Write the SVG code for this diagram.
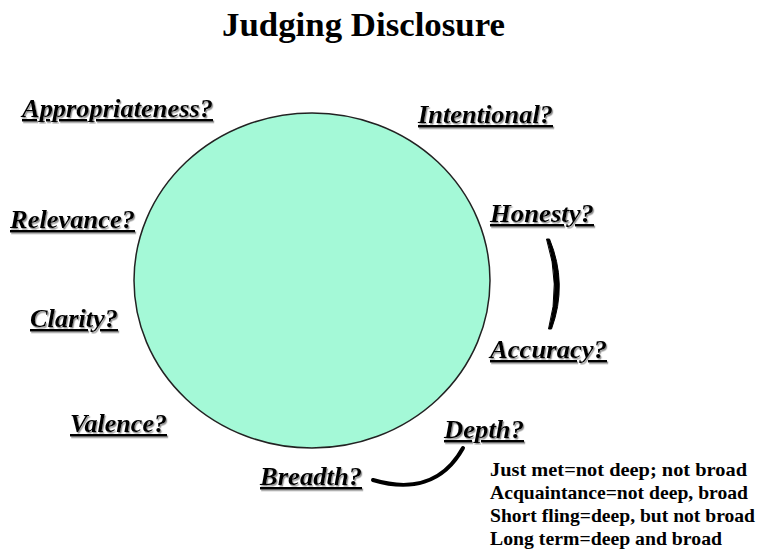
<svg xmlns="http://www.w3.org/2000/svg" width="760" height="552" viewBox="0 0 760 552">
<style>
.title{font-family:"Liberation Serif","Times New Roman",serif;font-weight:bold;font-size:34px;fill:#000}
.lbl{font-family:"Liberation Serif","Times New Roman",serif;font-weight:bold;font-style:italic;font-size:24.5px;fill:#000;text-decoration:underline;filter:url(#sh)}
.note{font-family:"Liberation Serif","Times New Roman",serif;font-weight:bold;font-size:19.5px;fill:#000}
.conn{fill:none;stroke:#000;stroke-width:4;stroke-linecap:round}
.connf{fill:#000;stroke:#000;stroke-width:1;stroke-linejoin:round}
</style>
<defs>
<filter id="sh" x="-10%" y="-20%" width="120%" height="150%">
<feDropShadow dx="1.2" dy="1.5" stdDeviation="0.6" flood-color="#777" flood-opacity="0.8"/>
</filter>
</defs>
<rect width="760" height="552" fill="#fff"/>
<text class="title" x="222" y="36" textLength="283" lengthAdjust="spacingAndGlyphs">Judging Disclosure</text>
<g id="circle">
<ellipse cx="312" cy="280.5" rx="178" ry="167.5" fill="#a4f9d7" stroke="#222" stroke-width="1.5"/>
</g>
<g id="connectors">
<path class="connf" d="M546.5,239 L549.5,239 Q568,284 551.5,329 L548.5,329 Q561,284 546.5,239 Z"/>
<path class="conn" d="M373,480 C410,491 443,484 463,448"/>
</g>
<g id="appropriateness"><text class="lbl" x="22" y="117" textLength="191" lengthAdjust="spacingAndGlyphs">Appropriateness?</text></g>
<g id="intentional"><text class="lbl" x="418" y="123" textLength="135" lengthAdjust="spacingAndGlyphs">Intentional?</text></g>
<g id="relevance"><text class="lbl" x="10" y="228" textLength="125" lengthAdjust="spacingAndGlyphs">Relevance?</text></g>
<g id="honesty"><text class="lbl" x="490" y="222" textLength="104" lengthAdjust="spacingAndGlyphs">Honesty?</text></g>
<g id="clarity"><text class="lbl" x="30" y="327" textLength="88" lengthAdjust="spacingAndGlyphs">Clarity?</text></g>
<g id="accuracy"><text class="lbl" x="490" y="358" textLength="117" lengthAdjust="spacingAndGlyphs">Accuracy?</text></g>
<g id="valence"><text class="lbl" x="70" y="432" textLength="97" lengthAdjust="spacingAndGlyphs">Valence?</text></g>
<g id="depth"><text class="lbl" x="444" y="438" textLength="80" lengthAdjust="spacingAndGlyphs">Depth?</text></g>
<g id="breadth"><text class="lbl" x="260" y="485" textLength="102" lengthAdjust="spacingAndGlyphs">Breadth?</text></g>
<g id="notes">
<text class="note" x="490" y="476" textLength="257" lengthAdjust="spacingAndGlyphs">Just met=not deep; not broad</text>
<text class="note" x="490" y="499" textLength="258" lengthAdjust="spacingAndGlyphs">Acquaintance=not deep, broad</text>
<text class="note" x="490" y="522" textLength="265" lengthAdjust="spacingAndGlyphs">Short fling=deep, but not broad</text>
<text class="note" x="490" y="545" textLength="232" lengthAdjust="spacingAndGlyphs">Long term=deep and broad</text>
</g>
</svg>
